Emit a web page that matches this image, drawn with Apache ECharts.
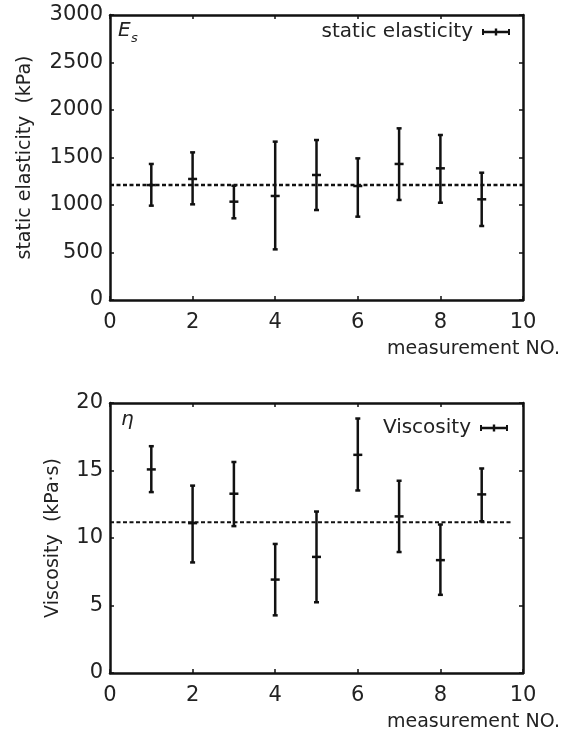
<!DOCTYPE html>
<html lang="en">
<head>
    <meta charset="UTF-8">
    <title>Static elasticity and viscosity</title>
    <script src="https://cdn.jsdelivr.net/npm/echarts@6/dist/echarts.min.js"></script>
    <style>
        html, body { margin: 0; padding: 0; background: #fff; }
        #chart { width: 574px; height: 732px; }
    </style>
</head>
<body>
<div id="chart"></div>
<script>
// measurement numbers
const measureNo = [1, 2, 3, 4, 5, 6, 7, 8, 9];

// static elasticity (kPa): mean, lower and upper end of error bar
const elasticMean = [1210, 1274, 1035, 1095, 1316, 1200, 1432, 1386, 1060];
const elasticLow  = [993, 1007, 860, 533, 947, 877, 1053, 1024, 779];
const elasticHigh = [1432, 1554, 1203, 1667, 1684, 1491, 1807, 1737, 1340];
const elasticAvg = 1210;

// viscosity (kPa·s)
const viscMean = [15.08, 11.1, 13.28, 6.92, 8.6, 16.16, 11.6, 8.36, 13.23];
const viscLow  = [13.4, 8.19, 10.88, 4.27, 5.24, 13.52, 8.96, 5.79, 11.24];
const viscHigh = [16.8, 13.88, 15.63, 9.56, 11.96, 18.85, 14.24, 11.0, 15.15];
const viscAvg = 11.17;
const viscAvgEnd = 9.7;

const xTicks = [0, 2, 4, 6, 8, 10];

const FONT = 'DejaVu Sans';
const INK = '#111';
// legend symbol: horizontal errorbar
const errIcon = 'path://M0,3.8h28v2.4h-28z M0,2h2v6h-2z M12.8,1.5h2.4v7h-2.4z M26,2h2v6h-2z';

function errRender(params, api) {
    const x = api.value(0);
    const c = api.coord([x, api.value(1)]);
    const lo = api.coord([x, api.value(2)]);
    const hi = api.coord([x, api.value(3)]);
    const st = { stroke: INK, lineWidth: 2.5 };
    return {
        type: 'group',
        children: [
            { type: 'line', shape: { x1: c[0], y1: hi[1], x2: c[0], y2: lo[1] }, style: st },
            { type: 'line', shape: { x1: c[0] - 2.5, y1: hi[1], x2: c[0] + 2.5, y2: hi[1] }, style: st },
            { type: 'line', shape: { x1: c[0] - 2.5, y1: lo[1], x2: c[0] + 2.5, y2: lo[1] }, style: st },
            { type: 'line', shape: { x1: c[0] - 4.5, y1: c[1], x2: c[0] + 4.5, y2: c[1] }, style: st }
        ]
    };
}

function rows(mean, low, high) {
    return measureNo.map((n, i) => [n, mean[i], low[i], high[i]]);
}

function xAxes(grid) {
    const base = {
        gridIndex: grid, type: 'value', min: 0, max: 10, interval: 2,
        axisLine: { onZero: false, lineStyle: { color: INK, width: 2.5 } },
        axisTick: { inside: true, length: 4, lineStyle: { color: INK, width: 1.5 } },
        splitLine: { show: false }
    };
    return [
        Object.assign({}, base, {
            position: 'bottom',
            axisLabel: {
                fontFamily: FONT, fontSize: 21, color: '#222', margin: 12,
                formatter: v => xTicks.includes(v) ? String(v) : ''
            },
            name: 'measurement NO.', nameLocation: 'end', nameGap: 37,
            nameTextStyle: {
                fontFamily: FONT, fontSize: 19, color: '#222',
                align: 'right', verticalAlign: 'top', padding: [40, 0, 0, 0]
            }
        }),
        Object.assign({}, base, { position: 'top', axisLabel: { show: false } })
    ];
}

function yAxes(grid, max, interval, name, gap) {
    const base = {
        gridIndex: grid, type: 'value', min: 0, max: max, interval: interval,
        axisLine: { onZero: false, lineStyle: { color: INK, width: 2.5 } },
        axisTick: { inside: true, length: 4, lineStyle: { color: INK, width: 1.5 } },
        splitLine: { show: false }
    };
    return [
        Object.assign({}, base, {
            position: 'left',
            axisLabel: {
                fontFamily: FONT, fontSize: 21, color: '#222', margin: 7,
                formatter: v => String(v)
            },
            name: name, nameLocation: 'middle', nameGap: gap,
            nameTextStyle: { fontFamily: FONT, fontSize: 19, color: '#222' }
        }),
        Object.assign({}, base, { position: 'right', axisLabel: { show: false } })
    ];
}

const chart = echarts.init(document.getElementById('chart'));

const option = {
    animation: false,
    backgroundColor: '#fff',
    grid: [
        { left: 110, right: 51, top: 15, height: 285 },
        { left: 110, right: 51, top: 403, height: 278 }
    ],
    xAxis: xAxes(0).concat(xAxes(1)),
    yAxis: yAxes(0, 3000, 500, 'static elasticity  (kPa)', 75)
        .concat(yAxes(1, 20, 5, 'Viscosity  (kPa·s)', 47)),
    legend: [
        {
            data: [{ name: 'static elasticity', icon: errIcon }],
            right: 64, top: 22, padding: 0, align: 'right',
            itemWidth: 28, itemHeight: 10,
            textStyle: { fontFamily: FONT, fontSize: 20, color: '#222', padding: [0, 4, 0, 0] }
        },
        {
            data: [{ name: 'Viscosity', icon: errIcon }],
            right: 66, top: 418, padding: 0, align: 'right',
            itemWidth: 28, itemHeight: 10,
            textStyle: { fontFamily: FONT, fontSize: 20, color: '#222', padding: [0, 4, 0, 0] }
        }
    ],
    graphic: [
        { type: 'text', left: 118, top: 21, style: { text: 'E', font: 'italic 20px "DejaVu Sans"', fill: '#222' } },
        { type: 'text', left: 131, top: 32, style: { text: 's', font: 'italic 13px "DejaVu Sans"', fill: '#222' } },
        { type: 'text', left: 121, top: 410, style: { text: 'η', font: 'italic 20px "DejaVu Sans"', fill: '#222' } }
    ],
    series: [
        {
            name: 'static elasticity', type: 'custom',
            xAxisIndex: 0, yAxisIndex: 0,
            itemStyle: { color: INK },
            renderItem: errRender,
            encode: { x: 0, y: [1, 2, 3] },
            data: rows(elasticMean, elasticLow, elasticHigh)
        },
        {
            name: 'elasticity mean', type: 'line',
            xAxisIndex: 0, yAxisIndex: 0,
            symbol: 'none', silent: true,
            lineStyle: { color: INK, width: 2.5, type: [4, 2.5] },
            data: [[0, elasticAvg], [10, elasticAvg]]
        },
        {
            name: 'Viscosity', type: 'custom',
            xAxisIndex: 2, yAxisIndex: 2,
            itemStyle: { color: INK },
            renderItem: errRender,
            encode: { x: 0, y: [1, 2, 3] },
            data: rows(viscMean, viscLow, viscHigh)
        },
        {
            name: 'viscosity mean', type: 'line',
            xAxisIndex: 2, yAxisIndex: 2,
            symbol: 'none', silent: true,
            lineStyle: { color: INK, width: 2, type: [4, 2.5] },
            data: [[0, viscAvg], [viscAvgEnd, viscAvg]]
        }
    ]
};

chart.setOption(option);
</script>
</body>
</html>
